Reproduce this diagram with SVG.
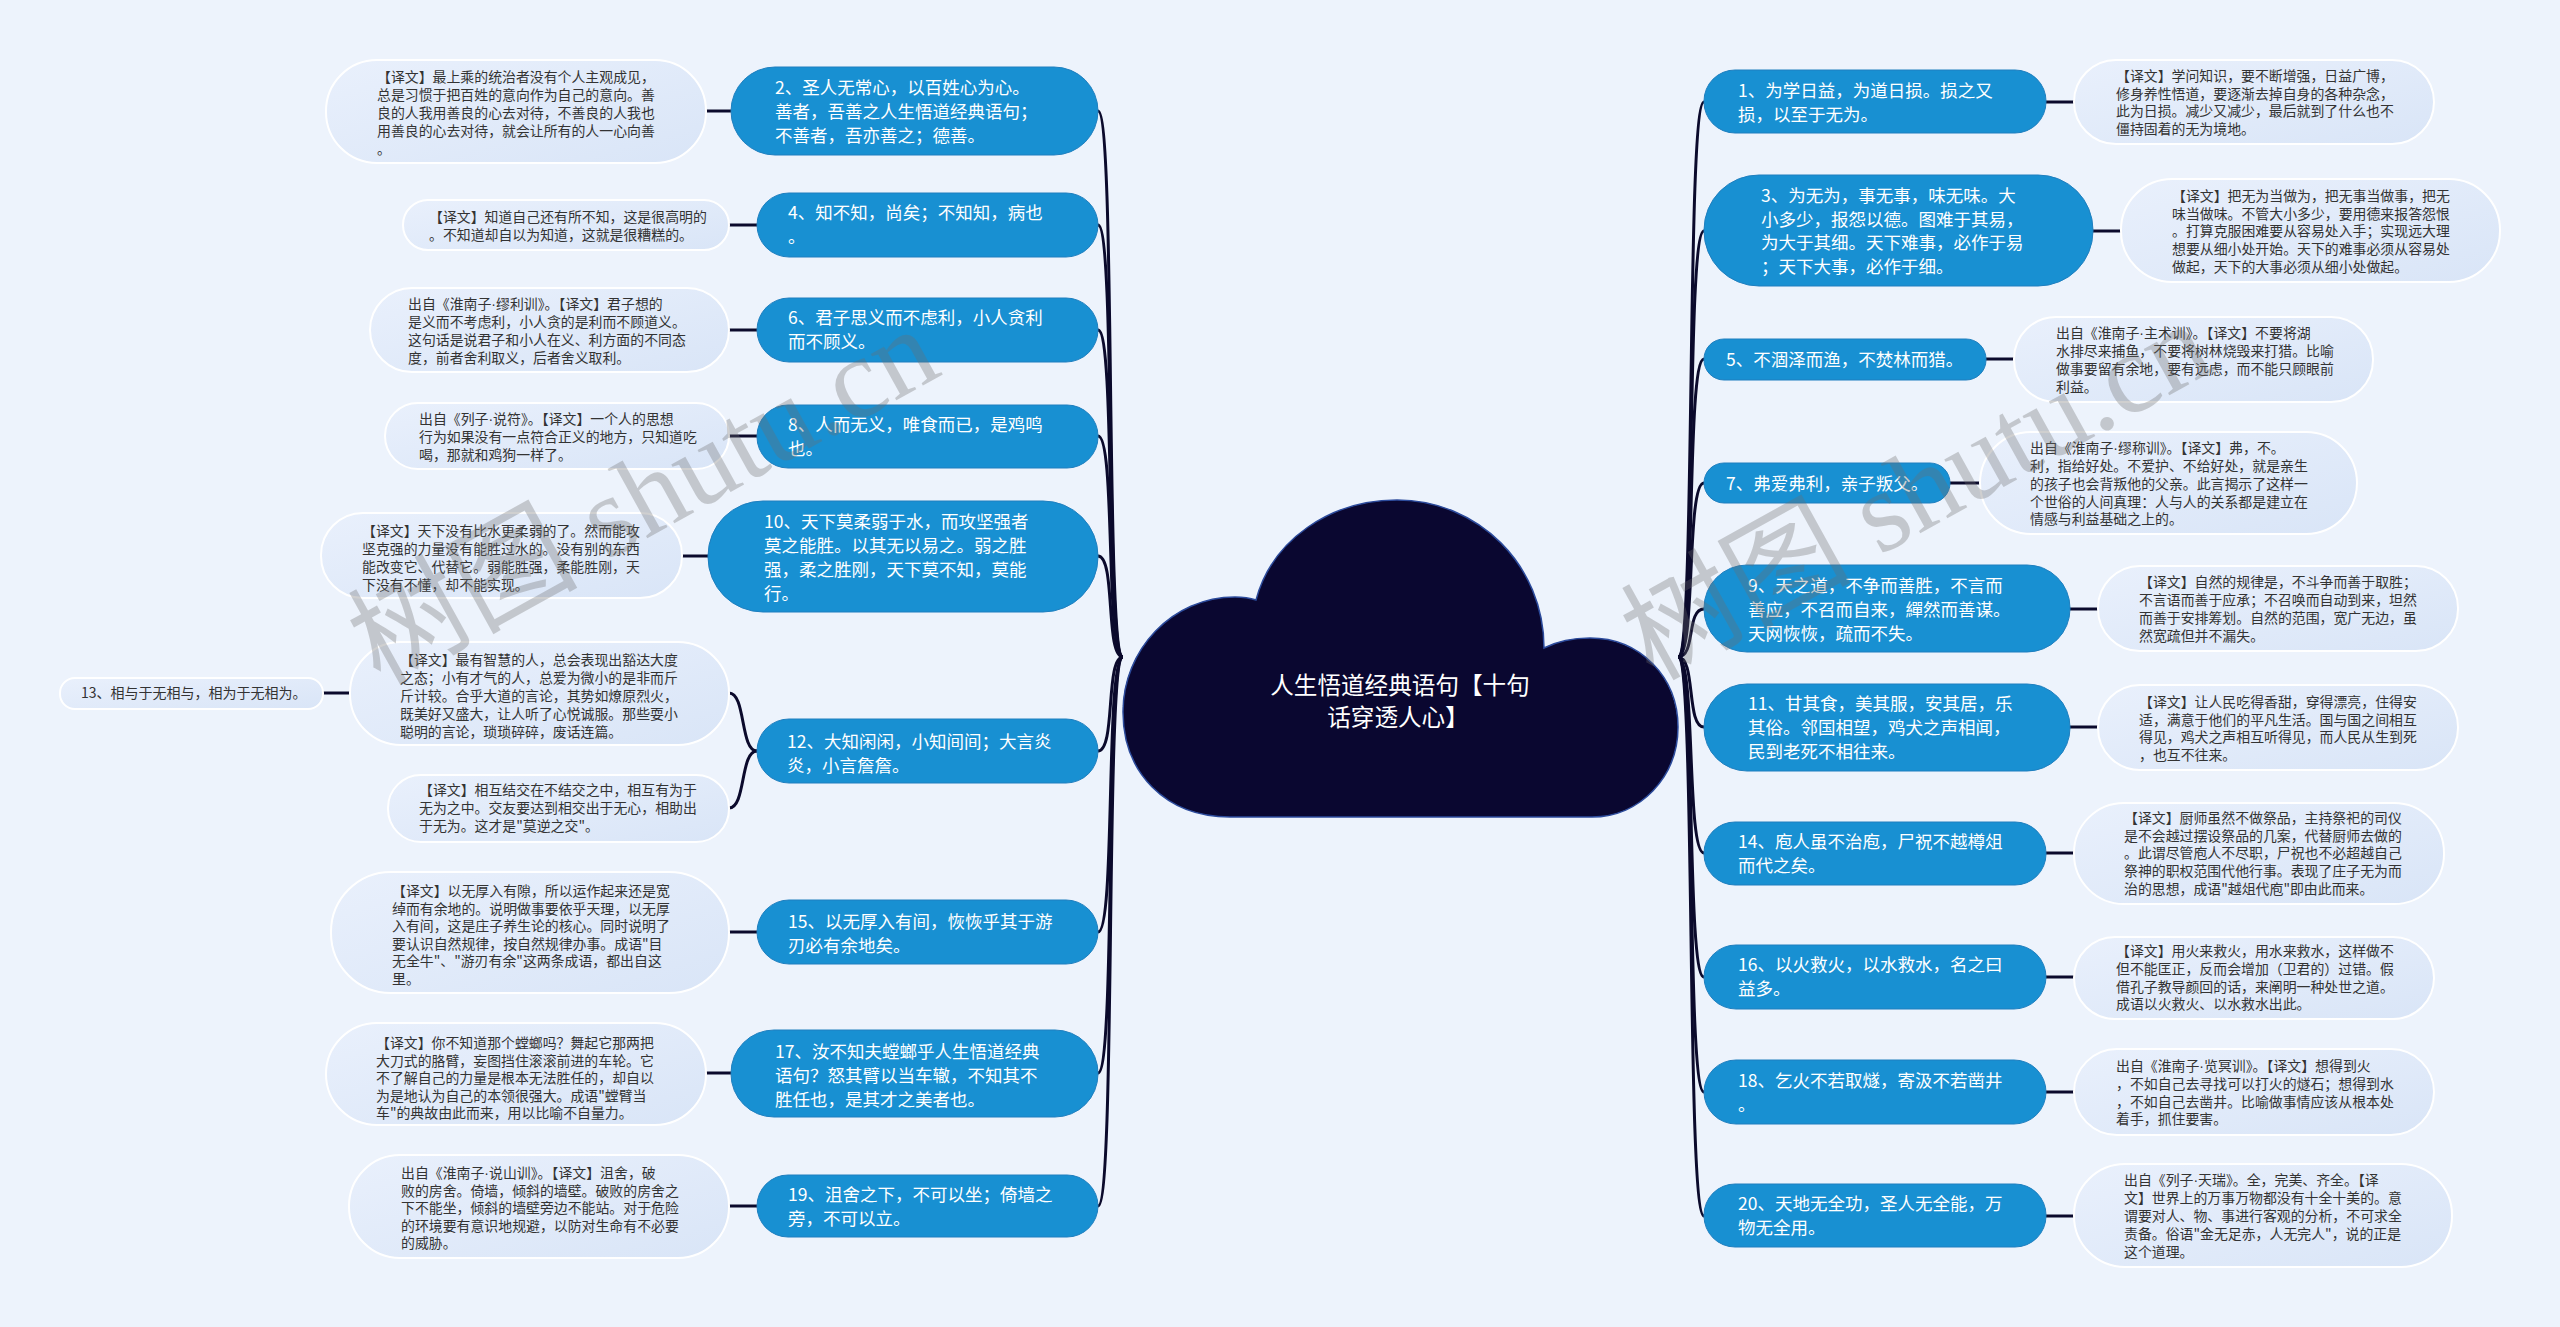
<svg xmlns="http://www.w3.org/2000/svg" width="2560" height="1327" viewBox="0 0 2560 1327">
<defs>
<linearGradient id="ng" x1="0" y1="0" x2="1" y2="1">
<stop offset="0" stop-color="#e9f0fc"/>
<stop offset="1" stop-color="#d9e5f7"/>
</linearGradient>
<style>
.node rect{fill:#1890d2;stroke:#1f7fbf;stroke-width:1}
.note rect{fill:url(#ng);stroke:#ffffff;stroke-width:2}
.nd{font-family:"Noto Sans CJK SC","Noto Sans",sans-serif;font-size:17.5px;fill:#ffffff}
.nt{font-family:"Noto Sans CJK SC","Noto Sans",sans-serif;font-size:13.9px;fill:#333333}
.dt{font-family:"Liberation Sans",sans-serif}
.ln{stroke:#0b0a2c;stroke-width:3;fill:none}
.wm{font-family:"Liberation Serif","Noto Sans CJK SC",serif;font-size:115px;fill:#6e6e6e;opacity:0.32}
</style>
</defs>
<rect x="0" y="0" width="2560" height="1327" fill="#edf3fc"/>

<g id="connectors">
<path class="ln" d="M1123 657 C1105 657 1116 111 1098 111"/>
<path class="ln" d="M1123 657 C1105 657 1116 225 1098 225"/>
<path class="ln" d="M1123 657 C1105 657 1116 330 1098 330"/>
<path class="ln" d="M1123 657 C1105 657 1116 436 1098 436"/>
<path class="ln" d="M1123 657 C1105 657 1116 556 1098 556"/>
<path class="ln" d="M1123 657 C1105 657 1116 751 1098 751"/>
<path class="ln" d="M1123 657 C1105 657 1116 932 1098 932"/>
<path class="ln" d="M1123 657 C1105 657 1116 1073 1098 1073"/>
<path class="ln" d="M1123 657 C1105 657 1116 1206 1098 1206"/>
<path class="ln" d="M1678 657 C1696 657 1686 102 1704 102"/>
<path class="ln" d="M1678 657 C1696 657 1686 231 1704 231"/>
<path class="ln" d="M1678 657 C1696 657 1686 359 1704 359"/>
<path class="ln" d="M1678 657 C1696 657 1686 483 1704 483"/>
<path class="ln" d="M1678 657 C1696 657 1686 609 1704 609"/>
<path class="ln" d="M1678 657 C1696 657 1686 727 1704 727"/>
<path class="ln" d="M1678 657 C1696 657 1686 853 1704 853"/>
<path class="ln" d="M1678 657 C1696 657 1686 977 1704 977"/>
<path class="ln" d="M1678 657 C1696 657 1686 1092 1704 1092"/>
<path class="ln" d="M1678 657 C1696 657 1686 1216 1704 1216"/>
<path class="ln" d="M706 111 H731"/>
<path class="ln" d="M729 225 H757"/>
<path class="ln" d="M729 330 H757"/>
<path class="ln" d="M729 436 H757"/>
<path class="ln" d="M682 556 H708"/>
<path class="ln" d="M757 751 C740 751 746 693 729 693"/>
<path class="ln" d="M757 751 C740 751 746 808 729 808"/>
<path class="ln" d="M323 693 H350"/>
<path class="ln" d="M729 932 H757"/>
<path class="ln" d="M706 1073 H731"/>
<path class="ln" d="M729 1206 H757"/>
<path class="ln" d="M2046 102 H2074"/>
<path class="ln" d="M2093 231 H2121"/>
<path class="ln" d="M1986 359 H2014"/>
<path class="ln" d="M1950 483 H1980"/>
<path class="ln" d="M2070 609 H2098"/>
<path class="ln" d="M2070 727 H2098"/>
<path class="ln" d="M2046 853 H2074"/>
<path class="ln" d="M2046 977 H2074"/>
<path class="ln" d="M2046 1092 H2074"/>
<path class="ln" d="M2046 1216 H2074"/>
</g>

<g id="root">
<path d="M1230 817 C1165 817 1123 772 1123 712 C1123 650 1172 597 1235 597 C1243 597 1250 598 1256 600 C1272 540 1330 500 1397 500 C1478 500 1544 565 1544 648 C1558 641 1573 638 1590 638 C1640 638 1678 677 1678 727 C1678 777 1640 817 1592 817 Z" fill="#0a0730" stroke="#2c4b9c" stroke-width="1.5"/>
<text font-family="'Noto Sans CJK SC','Noto Sans',sans-serif" font-size="23.6" fill="#ffffff" text-anchor="middle"><tspan x="1400" y="694">人生悟道经典语句【十句</tspan><tspan x="1398" y="726">话穿透人心】</tspan></text>
</g>

<g id="L2" class="node"><rect x="731" y="67" width="367" height="88" rx="44"/><text class="nd"><tspan x="775" y="94">2、圣人无常心，以百姓心为心。</tspan><tspan x="775" y="118">善者，吾善之人生悟道经典语句；</tspan><tspan x="775" y="142">不善者，吾亦善之；德善。</tspan></text></g>
<g id="L2n" class="note"><rect x="326" y="60" width="380" height="103" rx="51"/><text class="nt"><tspan x="377" y="82">【译文】最上乘的统治者没有个人主观成见，</tspan><tspan x="377" y="100">总是习惯于把百姓的意向作为自己的意向。善</tspan><tspan x="377" y="118">良的人我用善良的心去对待，不善良的人我也</tspan><tspan x="377" y="136">用善良的心去对待，就会让所有的人一心向善</tspan><tspan x="377" y="154">。</tspan></text></g>

<g id="L4" class="node"><rect x="757" y="193" width="341" height="64" rx="32"/><text class="nd"><tspan x="788" y="219">4、知不知，尚矣；不知知，病也</tspan><tspan x="788" y="243">。</tspan></text></g>
<g id="L4n" class="note"><rect x="403" y="200" width="326" height="50" rx="25"/><text class="nt"><tspan x="429" y="222">【译文】知道自己还有所不知，这是很高明的</tspan><tspan x="429" y="240">。不知道却自以为知道，这就是很糟糕的。</tspan></text></g>

<g id="L6" class="node"><rect x="757" y="298" width="341" height="64" rx="32"/><text class="nd"><tspan x="788" y="324">6、君子思义而不虑利，小人贪利</tspan><tspan x="788" y="348">而不顾义。</tspan></text></g>
<g id="L6n" class="note"><rect x="370" y="288" width="359" height="84" rx="42"/><text class="nt"><tspan x="408" y="309">出自《淮南子<tspan class="dt">·</tspan>缪利训》。【译文】君子想的</tspan><tspan x="408" y="327">是义而不考虑利，小人贪的是利而不顾道义。</tspan><tspan x="408" y="345">这句话是说君子和小人在义、利方面的不同态</tspan><tspan x="408" y="363">度，前者舍利取义，后者舍义取利。</tspan></text></g>

<g id="L8" class="node"><rect x="757" y="405" width="341" height="63" rx="31"/><text class="nd"><tspan x="788" y="431">8、人而无义，唯食而已，是鸡鸣</tspan><tspan x="788" y="455">也。</tspan></text></g>
<g id="L8n" class="note"><rect x="385" y="403" width="344" height="66" rx="33"/><text class="nt"><tspan x="419" y="424">出自《列子<tspan class="dt">·</tspan>说符》。【译文】一个人的思想</tspan><tspan x="419" y="442">行为如果没有一点符合正义的地方，只知道吃</tspan><tspan x="419" y="460">喝，那就和鸡狗一样了。</tspan></text></g>

<g id="L10" class="node"><rect x="708" y="501" width="390" height="111" rx="55"/><text class="nd"><tspan x="764" y="528">10、天下莫柔弱于水，而攻坚强者</tspan><tspan x="764" y="552">莫之能胜。以其无以易之。弱之胜</tspan><tspan x="764" y="576">强，柔之胜刚，天下莫不知，莫能</tspan><tspan x="764" y="600">行。</tspan></text></g>
<g id="L10n" class="note"><rect x="321" y="513" width="361" height="85" rx="42"/><text class="nt"><tspan x="362" y="536">【译文】天下没有比水更柔弱的了。然而能攻</tspan><tspan x="362" y="554">坚克强的力量没有能胜过水的。没有别的东西</tspan><tspan x="362" y="572">能改变它、代替它。弱能胜强，柔能胜刚，天</tspan><tspan x="362" y="590">下没有不懂，却不能实现。</tspan></text></g>

<g id="L12" class="node"><rect x="757" y="719" width="341" height="64" rx="32"/><text class="nd"><tspan x="787" y="748">12、大知闲闲，小知间间；大言炎</tspan><tspan x="787" y="772">炎，小言詹詹。</tspan></text></g>
<g id="L12n1" class="note"><rect x="350" y="642" width="379" height="103" rx="51"/><text class="nt"><tspan x="400" y="665">【译文】最有智慧的人，总会表现出豁达大度</tspan><tspan x="400" y="683">之态；小有才气的人，总爱为微小的是非而斤</tspan><tspan x="400" y="701">斤计较。合乎大道的言论，其势如燎原烈火，</tspan><tspan x="400" y="719">既美好又盛大，让人听了心悦诚服。那些耍小</tspan><tspan x="400" y="737">聪明的言论，琐琐碎碎，废话连篇。</tspan></text></g>
<g id="L12n2" class="note"><rect x="388" y="775" width="341" height="67" rx="33"/><text class="nt"><tspan x="419" y="795">【译文】相互结交在不结交之中，相互有为于</tspan><tspan x="419" y="813">无为之中。交友要达到相交出于无心，相助出</tspan><tspan x="419" y="831">于无为。这才是"莫逆之交"。</tspan></text></g>
<g id="L13" class="note"><rect x="60" y="678" width="263" height="31" rx="15"/><text class="nt" style="font-size:14px"><tspan x="81" y="698">13、相与于无相与，相为于无相为。</tspan></text></g>

<g id="L15" class="node"><rect x="757" y="900" width="341" height="64" rx="32"/><text class="nd"><tspan x="788" y="928">15、以无厚入有间，恢恢乎其于游</tspan><tspan x="788" y="952">刃必有余地矣。</tspan></text></g>
<g id="L15n" class="note"><rect x="331" y="872" width="398" height="121" rx="60"/><text class="nt"><tspan x="392" y="896">【译文】以无厚入有隙，所以运作起来还是宽</tspan><tspan x="392" y="913.5">绰而有余地的。说明做事要依乎天理，以无厚</tspan><tspan x="392" y="931">入有间，这是庄子养生论的核心。同时说明了</tspan><tspan x="392" y="948.5">要认识自然规律，按自然规律办事。成语"目</tspan><tspan x="392" y="966">无全牛"、"游刃有余"这两条成语，都出自这</tspan><tspan x="392" y="983.5">里。</tspan></text></g>

<g id="L17" class="node"><rect x="731" y="1030" width="367" height="87" rx="43"/><text class="nd"><tspan x="775" y="1058">17、汝不知夫螳螂乎人生悟道经典</tspan><tspan x="775" y="1082">语句？怒其臂以当车辙，不知其不</tspan><tspan x="775" y="1106">胜任也，是其才之美者也。</tspan></text></g>
<g id="L17n" class="note"><rect x="326" y="1023" width="380" height="102" rx="51"/><text class="nt"><tspan x="376" y="1048">【译文】你不知道那个螳螂吗？舞起它那两把</tspan><tspan x="376" y="1065.5">大刀式的胳臂，妄图挡住滚滚前进的车轮。它</tspan><tspan x="376" y="1083">不了解自己的力量是根本无法胜任的，却自以</tspan><tspan x="376" y="1100.5">为是地认为自己的本领很强大。成语"螳臂当</tspan><tspan x="376" y="1118">车"的典故由此而来，用以比喻不自量力。</tspan></text></g>

<g id="L19" class="node"><rect x="757" y="1175" width="341" height="62" rx="31"/><text class="nd"><tspan x="788" y="1201">19、沮舍之下，不可以坐；倚墙之</tspan><tspan x="788" y="1225">旁，不可以立。</tspan></text></g>
<g id="L19n" class="note"><rect x="349" y="1155" width="380" height="103" rx="51"/><text class="nt"><tspan x="401" y="1178">出自《淮南子<tspan class="dt">·</tspan>说山训》。【译文】沮舍，破</tspan><tspan x="401" y="1195.5">败的房舍。倚墙，倾斜的墙壁。破败的房舍之</tspan><tspan x="401" y="1213">下不能坐，倾斜的墙壁旁边不能站。对于危险</tspan><tspan x="401" y="1230.5">的环境要有意识地规避，以防对生命有不必要</tspan><tspan x="401" y="1248">的威胁。</tspan></text></g>

<g id="R1" class="node"><rect x="1704" y="70" width="342" height="63" rx="31"/><text class="nd"><tspan x="1738" y="97">1、为学日益，为道日损。损之又</tspan><tspan x="1738" y="121">损，以至于无为。</tspan></text></g>
<g id="R1n" class="note"><rect x="2074" y="60" width="360" height="84" rx="42"/><text class="nt"><tspan x="2116" y="81">【译文】学问知识，要不断增强，日益广博，</tspan><tspan x="2116" y="98.5">修身养性悟道，要逐渐去掉自身的各种杂念，</tspan><tspan x="2116" y="116">此为日损。减少又减少，最后就到了什么也不</tspan><tspan x="2116" y="134">僵持固着的无为境地。</tspan></text></g>

<g id="R3" class="node"><rect x="1704" y="175" width="389" height="111" rx="55"/><text class="nd"><tspan x="1761" y="202">3、为无为，事无事，味无味。大</tspan><tspan x="1761" y="225.5">小多少，报怨以德。图难于其易，</tspan><tspan x="1761" y="249">为大于其细。天下难事，必作于易</tspan><tspan x="1761" y="272.5">；天下大事，必作于细。</tspan></text></g>
<g id="R3n" class="note"><rect x="2121" y="179" width="379" height="103" rx="51"/><text class="nt"><tspan x="2172" y="201">【译文】把无为当做为，把无事当做事，把无</tspan><tspan x="2172" y="218.5">味当做味。不管大小多少，要用德来报答怨恨</tspan><tspan x="2172" y="236">。打算克服困难要从容易处入手；实现远大理</tspan><tspan x="2172" y="254">想要从细小处开始。天下的难事必须从容易处</tspan><tspan x="2172" y="272">做起，天下的大事必须从细小处做起。</tspan></text></g>

<g id="R5" class="node"><rect x="1704" y="339" width="282" height="41" rx="20"/><text class="nd"><tspan x="1726" y="366">5、不涸泽而渔，不焚林而猎。</tspan></text></g>
<g id="R5n" class="note"><rect x="2014" y="317" width="359" height="85" rx="42"/><text class="nt"><tspan x="2056" y="338">出自《淮南子<tspan class="dt">·</tspan>主术训》。【译文】不要将湖</tspan><tspan x="2056" y="356">水排尽来捕鱼，不要将树林烧毁来打猎。比喻</tspan><tspan x="2056" y="374">做事要留有余地，要有远虑，而不能只顾眼前</tspan><tspan x="2056" y="392">利益。</tspan></text></g>

<g id="R7" class="node"><rect x="1704" y="463" width="246" height="40" rx="20"/><text class="nd"><tspan x="1726" y="490">7、弗爱弗利，亲子叛父。</tspan></text></g>
<g id="R7n" class="note"><rect x="1980" y="432" width="377" height="102" rx="51"/><text class="nt"><tspan x="2030" y="453">出自《淮南子<tspan class="dt">·</tspan>缪称训》。【译文】弗，不。</tspan><tspan x="2030" y="471">利，指给好处。不爱护、不给好处，就是亲生</tspan><tspan x="2030" y="489">的孩子也会背叛他的父亲。此言揭示了这样一</tspan><tspan x="2030" y="507">个世俗的人间真理：人与人的关系都是建立在</tspan><tspan x="2030" y="524">情感与利益基础之上的。</tspan></text></g>

<g id="R9" class="node"><rect x="1704" y="565" width="366" height="87" rx="43"/><text class="nd"><tspan x="1748" y="592">9、天之道，不争而善胜，不言而</tspan><tspan x="1748" y="616">善应，不召而自来，繟然而善谋。</tspan><tspan x="1748" y="640">天网恢恢，疏而不失。</tspan></text></g>
<g id="R9n" class="note"><rect x="2098" y="566" width="360" height="85" rx="42"/><text class="nt"><tspan x="2139" y="587">【译文】自然的规律是，不斗争而善于取胜；</tspan><tspan x="2139" y="605">不言语而善于应承；不召唤而自动到来，坦然</tspan><tspan x="2139" y="623">而善于安排筹划。自然的范围，宽广无边，虽</tspan><tspan x="2139" y="641">然宽疏但并不漏失。</tspan></text></g>

<g id="R11" class="node"><rect x="1704" y="684" width="366" height="87" rx="43"/><text class="nd"><tspan x="1748" y="710">11、甘其食，美其服，安其居，乐</tspan><tspan x="1748" y="734">其俗。邻国相望，鸡犬之声相闻，</tspan><tspan x="1748" y="758">民到老死不相往来。</tspan></text></g>
<g id="R11n" class="note"><rect x="2098" y="685" width="360" height="85" rx="42"/><text class="nt"><tspan x="2139" y="707">【译文】让人民吃得香甜，穿得漂亮，住得安</tspan><tspan x="2139" y="724.5">适，满意于他们的平凡生活。国与国之间相互</tspan><tspan x="2139" y="742">得见，鸡犬之声相互听得见，而人民从生到死</tspan><tspan x="2139" y="760">，也互不往来。</tspan></text></g>

<g id="R14" class="node"><rect x="1704" y="822" width="342" height="63" rx="31"/><text class="nd"><tspan x="1738" y="848">14、庖人虽不治庖，尸祝不越樽俎</tspan><tspan x="1738" y="872">而代之矣。</tspan></text></g>
<g id="R14n" class="note"><rect x="2074" y="803" width="370" height="101" rx="50"/><text class="nt"><tspan x="2124" y="823">【译文】厨师虽然不做祭品，主持祭祀的司仪</tspan><tspan x="2124" y="840.7">是不会越过摆设祭品的几案，代替厨师去做的</tspan><tspan x="2124" y="858.4">。此谓尽管庖人不尽职，尸祝也不必超越自己</tspan><tspan x="2124" y="876">祭神的职权范围代他行事。表现了庄子无为而</tspan><tspan x="2124" y="893.8">治的思想，成语"越俎代庖"即由此而来。</tspan></text></g>

<g id="R16" class="node"><rect x="1704" y="945" width="342" height="64" rx="32"/><text class="nd"><tspan x="1738" y="971">16、以火救火，以水救水，名之曰</tspan><tspan x="1738" y="995">益多。</tspan></text></g>
<g id="R16n" class="note"><rect x="2074" y="937" width="360" height="82" rx="41"/><text class="nt"><tspan x="2116" y="956">【译文】用火来救火，用水来救水，这样做不</tspan><tspan x="2116" y="974">但不能匡正，反而会增加（卫君的）过错。假</tspan><tspan x="2116" y="992">借孔子教导颜回的话，来阐明一种处世之道。</tspan><tspan x="2116" y="1009">成语以火救火、以水救水出此。</tspan></text></g>

<g id="R18" class="node"><rect x="1704" y="1060" width="342" height="64" rx="32"/><text class="nd"><tspan x="1738" y="1087">18、乞火不若取燧，寄汲不若凿井</tspan><tspan x="1738" y="1111">。</tspan></text></g>
<g id="R18n" class="note"><rect x="2074" y="1049" width="360" height="86" rx="43"/><text class="nt"><tspan x="2116" y="1071">出自《淮南子<tspan class="dt">·</tspan>览冥训》。【译文】想得到火</tspan><tspan x="2116" y="1089">，不如自己去寻找可以打火的燧石；想得到水</tspan><tspan x="2116" y="1107">，不如自己去凿井。比喻做事情应该从根本处</tspan><tspan x="2116" y="1124">着手，抓住要害。</tspan></text></g>

<g id="R20" class="node"><rect x="1704" y="1184" width="342" height="63" rx="31"/><text class="nd"><tspan x="1738" y="1210">20、天地无全功，圣人无全能，万</tspan><tspan x="1738" y="1234">物无全用。</tspan></text></g>
<g id="R20n" class="note"><rect x="2074" y="1164" width="378" height="103" rx="51"/><text class="nt"><tspan x="2124" y="1185">出自《列子<tspan class="dt">·</tspan>天瑞》。全，完美、齐全。【译</tspan><tspan x="2124" y="1203">文】世界上的万事万物都没有十全十美的。意</tspan><tspan x="2124" y="1221">谓要对人、物、事进行客观的分析，不可求全</tspan><tspan x="2124" y="1239">责备。俗语"金无足赤，人无完人"，说的正是</tspan><tspan x="2124" y="1257">这个道理。</tspan></text></g>

<g id="watermark">
<text class="wm" text-anchor="middle" transform="translate(662 530) rotate(-29)">树图 shutu.cn</text>
<text class="wm" text-anchor="middle" transform="translate(1935 525) rotate(-29)">树图 shutu.cn</text>
</g>
</svg>
